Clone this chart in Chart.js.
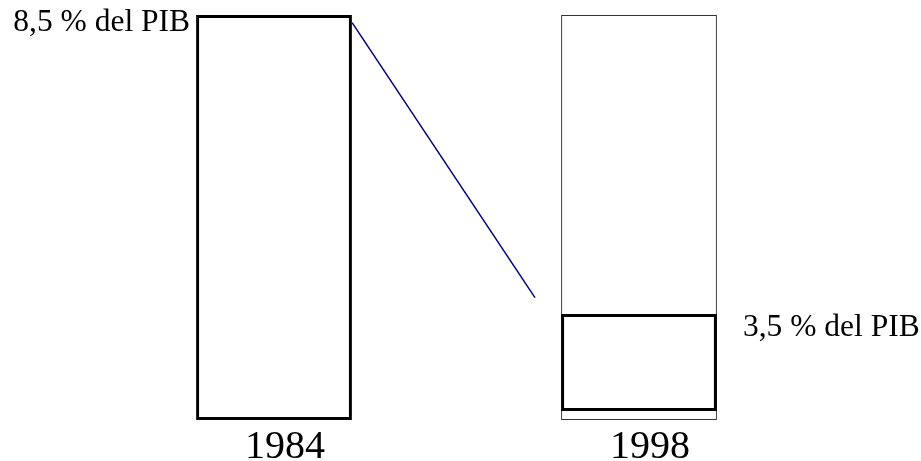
<!DOCTYPE html>
<html>
<head>
<meta charset="utf-8">
<style>
  html, body { margin: 0; padding: 0; background: #ffffff; }
  #wrap { width: 921px; height: 461px; position: relative; }
</style>
<script src="https://cdn.jsdelivr.net/npm/chart.js@4"></script>
</head>
<body>
<div id="wrap"><canvas id="c" width="921" height="461"></canvas></div>
<script>
// Categories (years)
const years = ['1984', '1998'];
// Share of GDP shown in the labels (%)
const pibShares = [8.5, 3.5];
// Full-height frame drawn behind each year (both years share the same frame)
const frameRanges = [[0, 8.5], [0, 8.5]];
// Inner highlighted box for 1998 (as drawn in the picture)
const innerRanges = [null, [0.19, 2.225]];
// Connecting line, in the axis units of the chart (x: category index, y: value)
const connectorX = [0.214, 0.715];
const connectorY = [8.34, 2.57];

const labelText = v => v.toFixed(1).replace('.', ',') + ' % del PIB';

const labelPlugin = {
  id: 'pibLabels',
  afterDatasetsDraw(chart) {
    const ctx = chart.ctx;
    ctx.save();
    ctx.font = '31.5px "Liberation Serif", "Times New Roman", serif';
    ctx.fillStyle = '#000000';
    ctx.textBaseline = 'middle';
    // 1984 label: left of the frame, at its top
    const m0 = chart.getDatasetMeta(0).data[0];
    ctx.textAlign = 'right';
    ctx.fillText(labelText(pibShares[0]), m0.x - m0.width / 2 - 6, m0.y + 8);
    // 1998 label: right of the inner box, at its top
    const m1 = chart.getDatasetMeta(1).data[1];
    ctx.textAlign = 'left';
    ctx.fillText(labelText(pibShares[1]), m1.x + m1.width / 2 + 26, m1.y + 14);
    ctx.restore();
  }
};

new Chart(document.getElementById('c'), {
  data: {
    labels: years,
    datasets: [
      {
        type: 'bar',
        data: frameRanges,
        grouped: false,
        backgroundColor: 'rgba(0,0,0,0)',
        borderColor: ['#000000', '#333333'],
        borderWidth: [3, 1],
        borderSkipped: false,
        categoryPercentage: 0.427,
        barPercentage: 1,
        order: 3
      },
      {
        type: 'bar',
        data: innerRanges,
        grouped: false,
        backgroundColor: 'rgba(0,0,0,0)',
        borderColor: '#000000',
        borderWidth: 3,
        borderSkipped: false,
        categoryPercentage: 0.427,
        barPercentage: 1,
        order: 2
      },
      {
        type: 'line',
        xAxisID: 'xl',
        data: connectorX.map((x, i) => ({ x: x, y: connectorY[i] })),
        borderColor: '#000080',
        borderWidth: 1.5,
        pointRadius: 0,
        fill: false,
        order: 1
      }
    ]
  },
  options: {
    responsive: false,
    animation: false,
    events: [],
    layout: { padding: { left: 91.5, right: 99.5, top: 15, bottom: 0 } },
    plugins: { legend: { display: false }, tooltip: { enabled: false } },
    scales: {
      x: {
        type: 'category',
        offset: true,
        grid: { display: false },
        border: { display: false },
        ticks: {
          color: '#000000',
          font: { family: '"Liberation Serif", "Times New Roman", serif', size: 40 },
          padding: -5,
          labelOffset: 11,
          maxRotation: 0
        },
        afterFit(scale) { scale.height = 41; }
      },
      xl: {
        type: 'linear',
        display: false,
        min: -0.5,
        max: 1.5
      },
      y: {
        display: false,
        min: 0,
        max: 8.5
      }
    }
  },
  plugins: [labelPlugin]
});
</script>
</body>
</html>
